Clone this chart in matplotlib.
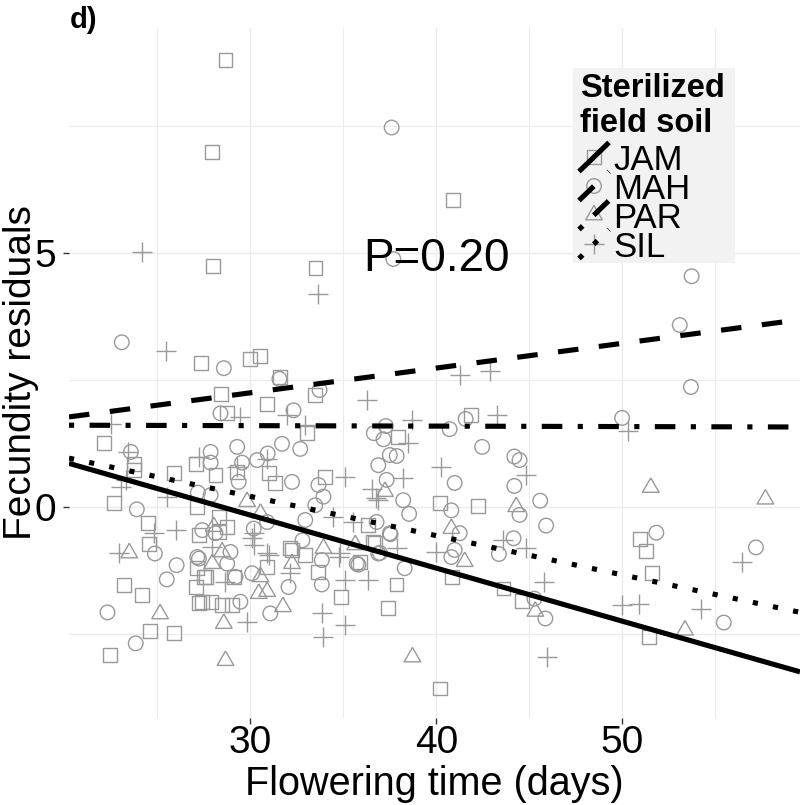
import matplotlib
matplotlib.use('Agg')
import matplotlib.pyplot as plt
from matplotlib.path import Path
from matplotlib.patches import Rectangle
from matplotlib.lines import Line2D

plt.rcParams['font.family'] = ['Liberation Sans', 'DejaVu Sans']

# flowering time (days) / fecundity residuals, one pair of lists per soil
jam_x = [28.66, 27.95, 28.0, 33.5, 40.9, 27.32, 30.0, 30.54, 31.61, 28.43, 28.75, 30.89,
         33.04, 33.49, 22.1, 23.74, 23.74, 22.67, 24.48, 24.54, 23.2, 24.17, 24.6, 25.89,
         22.44, 27.05, 28.12, 25.89, 29.29, 30.98, 31.34, 34.02, 28.3, 28.75, 27.14, 27.23,
         32.14, 32.95, 33.66, 34.86, 30.9, 29.1, 28.48, 27.41, 27.05, 27.5, 27.23, 27.86,
         29.02, 27.14, 27.59, 36.61, 37.86, 37.41, 40.19, 40.87, 40.19, 42.24, 43.62, 44.63,
         50.95, 51.3, 51.59, 51.45, 36.7, 36.34, 35.9, 41.89, 37.96, 28.3, 32.24]
jam_y = [8.80, 6.98, 4.75, 4.71, 6.04, 2.84, 2.91, 2.97, 2.55, 2.22, 1.85, 2.02,
         1.45, 2.20, 1.25, 0.85, 0.72, 0.07, -0.32, -0.74, -1.54, -1.73, -2.44, -2.48,
         -2.92, 0.85, 0.62, 0.66, 0.69, 0.66, 0.46, 0.59, -0.20, -0.39, 0.00, -0.56,
         -0.82, -0.95, -1.28, -1.77, -1.18, -1.38, -1.94, -1.87, -1.58, -1.38, -1.90, -1.87,
         -1.94, -1.21, -1.38, -0.69, -1.53, -2.00, -3.58, -1.38, 0.07, 0.01, -1.61, -1.85,
         -0.64, -0.87, -1.31, -2.56, -0.72, -0.36, -1.08, 1.81, 1.37, -0.49, -0.85]

mah_x = [37.6, 37.69, 23.08, 28.57, 31.56, 28.39, 32.32, 33.72, 23.57, 23.89, 24.86, 26.03,
         25.5, 22.31, 23.83, 27.86, 27.86, 29.29, 29.55, 29.37, 30.36, 30.93, 31.7, 32.68,
         32.24, 33.66, 33.93, 33.49, 32.95, 30.9, 27.17, 27.41, 28.12, 30.18, 35.72, 33.84,
         33.84, 31.07, 32.05, 30.09, 29.46, 27.23, 28.75, 28.93, 29.2, 32.8, 36.88, 37.5,
         38.3, 35.81, 40.81, 40.99, 41.26, 40.81, 40.99, 44.48, 44.2, 45.59, 45.91, 44.16,
         43.37, 45.28, 45.87, 51.84, 55.47, 57.2, 38.22, 38.54, 37.54, 36.97, 36.79, 37.29,
         36.64, 37.16, 40.72, 41.58, 42.47, 37.5, 37.87, 36.88, 44.2, 44.48, 37.33, 53.74,
         53.1, 53.7, 50.0, 27.86, 27.14]
mah_y = [7.47, 4.88, 3.24, 2.73, 2.52, 1.84, 1.90, 2.30, 1.08, -0.05, -0.92, -1.15,
         -1.43, -2.08, -2.69, 1.08, 0.87, 1.18, 0.87, 0.49, 0.92, 1.05, 1.24, 1.14,
         0.49, 0.43, 0.20, 0.03, -0.26, -0.30, 0.28, -0.46, -0.52, -0.43, -1.12, -1.05,
         -1.53, -2.10, -1.58, -1.31, -1.87, -1.02, -1.12, -0.89, -1.38, -0.66, -0.92, -0.52,
         -1.21, -1.14, -0.99, -0.85, -0.52, -0.07, 0.47, -0.16, 0.41, 0.12, -0.37, -0.62,
         -0.93, -1.81, -2.20, -0.51, -2.28, -0.80, 0.13, -0.14, -0.54, -0.91, -0.30, 1.59,
         1.45, 1.33, 1.53, 1.73, 1.18, 1.02, 1.00, 0.82, 0.99, 0.92, 0.53, 4.54,
         3.58, 2.36, 1.75, 0.23, -0.99]

par_x = [23.48, 25.14, 29.82, 30.54, 28.03, 33.93, 32.24, 31.75, 30.9, 30.54, 27.95, 28.57,
         28.66, 35.64, 30.45, 38.72, 41.53, 40.81, 44.3, 45.33, 51.54, 53.38, 57.71, 37.24,
         28.48]
par_y = [-0.91, -2.11, 0.10, -0.13, -0.39, -0.82, -1.12, -1.97, -1.67, -1.38, -1.12, -2.30,
         -3.03, -0.75, -1.71, -2.96, -1.08, -0.43, 0.00, -2.06, 0.38, -2.43, 0.15, 0.30,
         -0.89]

sil_x = [24.19, 25.44, 29.46, 31.97, 32.95, 22.49, 23.39, 23.03, 25.98, 24.82, 22.94, 27.23,
         25.53, 29.29, 30.9, 35.09, 34.47, 35.54, 27.95, 30.18, 30.18, 34.83, 32.14, 35.09,
         33.93, 35.09, 33.84, 30.9, 29.82, 30.09, 30.98, 34.74, 36.34, 23.3, 33.65, 36.26,
         41.26, 42.87, 38.67, 43.26, 38.49, 40.28, 44.84, 36.52, 36.76, 38.22, 37.87, 40.0,
         43.58, 44.84, 45.82, 45.94, 49.98, 50.91, 54.22, 56.45, 50.3, 28.66, 36.88]
sil_y = [5.01, 3.07, 1.77, 1.81, 1.61, 1.64, 1.08, 0.39, -0.46, -0.52, -0.92, 0.98,
         0.20, 0.79, 0.95, 0.59, -0.20, -0.30, -0.79, -0.52, -0.75, -0.92, -1.31, -1.44,
         -2.56, -2.33, -2.10, -0.92, -2.27, -0.62, -0.95, -0.99, -1.44, 0.53, 4.20, 2.10,
         2.60, 2.67, 1.71, 1.81, 1.25, 0.79, 0.62, 0.36, 0.17, 0.56, -0.82, -0.89,
         -0.66, -0.82, -1.48, -2.96, -1.94, -1.92, -2.02, -1.08, 1.49, -1.48, 0.13]

soils = ['JAM', 'MAH', 'PAR', 'SIL']
# fitted regression lines per soil
fit_intercept = [2.968, 0.784, 1.625, 2.52]
fit_slope = [-0.1044, 0.0487, -0.0009, -0.0772]
p_label = 'P=0.20'

xs = [jam_x, mah_x, par_x, sil_x]
ys = [jam_y, mah_y, par_y, sil_y]

tri = Path([(0, 0.577), (-0.5, -0.289), (0.5, -0.289), (0, 0.577)])
markers = ['s', 'o', tri, '+']
msizes = [100, 110, 190, 200]
styles = ['-', (0, (4, 4)), (0, (1, 3, 4, 3)), (0, (1, 3))]
grey = '#999999'

fig = plt.figure(figsize=(8, 8.05), dpi=100)
ax = fig.add_axes([69 / 800, 1 - 718 / 805, 731 / 800, 690 / 805])
xlim = (20.24, 59.57)
ax.set_xlim(xlim)
ax.set_ylim(-4.16, 9.43)

for x, y, m, s in zip(xs, ys, markers, msizes):
    if m == '+':
        ax.scatter(x, y, marker=m, s=s, c=grey, linewidths=1.0, zorder=2)
    else:
        ax.scatter(x, y, marker=m, s=s, facecolors='none', edgecolors=grey,
                   linewidths=1.0, zorder=2)

for a, b, ls in zip(fit_intercept, fit_slope, styles):
    ax.plot(xlim, [a + b * xlim[0], a + b * xlim[1]], color='black', lw=3.7,
            linestyle=ls, dash_capstyle='butt', solid_capstyle='butt', zorder=3)

ax.text(40, 4.65, p_label, ha='center', va='baseline', fontsize=33)

ax.set_xticks([30, 40, 50])
ax.set_xticks([25, 35, 45, 55], minor=True)
ax.set_yticks([0, 5])
ax.set_yticks([-2.5, 2.5, 7.5], minor=True)
ax.grid(which='major', color='#ebebeb', lw=1.0)
ax.grid(which='minor', color='#ebebeb', lw=0.7)
ax.set_axisbelow(True)
for sp in ax.spines.values():
    sp.set_visible(False)
ax.tick_params(which='major', length=4, width=1.0, color='#333333',
               labelsize=28, labelcolor='black')
ax.tick_params(axis='x', pad=1)
ax.tick_params(axis='y', pad=5)
ax.tick_params(which='minor', length=0)

ax.set_xlabel('Flowering time (days)', fontsize=28.5, va='baseline')
ax.xaxis.set_label_coords(0.5, (718 - 795) / 690)
ax.set_ylabel('Fecundity residuals', fontsize=28, va='baseline')
ax.yaxis.set_label_coords((31 - 69) / 731, 0.5)

fig.text(70 / 800, 1 - 28 / 805, 'd)', fontsize=21, fontweight='bold', va='baseline')

# legend drawn in pixel space
lax = fig.add_axes([0, 0, 1, 1])
lax.set_xlim(0, 800)
lax.set_ylim(805, 0)
lax.axis('off')
lax.patch.set_alpha(0)
lax.add_patch(Rectangle((573, 68), 162, 195, facecolor='#f2f2f2', edgecolor='none'))
lax.text(580, 97, 'Sterilized', fontsize=23.5, fontweight='bold', va='baseline')
lax.text(580, 132, 'field soil', fontsize=23.5, fontweight='bold', va='baseline')
for i, (name, m, s, ls) in enumerate(zip(soils, markers, msizes, styles)):
    base = 170 + 29 * i
    cy = base - 13
    if m == '+':
        lax.scatter([594], [cy], marker=m, s=s, c=grey, linewidths=1.0)
    else:
        lax.scatter([594], [cy], marker=m, s=s, facecolors='none', edgecolors=grey,
                    linewidths=1.0)
    lax.add_line(Line2D([579, 609], [cy + 14.5, cy - 14.5], color='black', lw=3.7,
                        linestyle=ls, dash_capstyle='butt', solid_capstyle='butt'))
    lax.text(613, base, name, fontsize=25, va='baseline')

fig.savefig('out.png', dpi=100, facecolor='white')
